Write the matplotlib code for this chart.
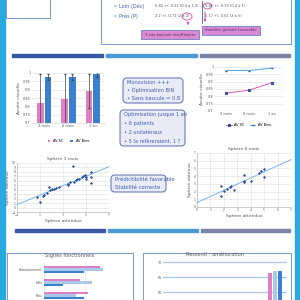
import numpy as np
import matplotlib.pyplot as plt
from matplotlib.patches import FancyBboxPatch, Rectangle, Ellipse

# donnees
periodes = ["3 mois", "6 mois", "1 an"]
av_sc = [0.822, 0.842, 0.893]
av_sc_err = [0.17, 0.15, 0.10]
av_bino = [0.976, 0.976, 0.992]
av_bino_err = [0.02, 0.02, 0.015]

sph3_att = [0.73, 1.01, 1.24, 1.39, 1.59, 1.79, 1.88, 2.02, 2.22, 2.4, 2.68, 3.46, 3.46, 3.6,
            3.83, 3.95, 4.12, 4.24, 4.41, 4.61, 4.76, 4.9, 4.99, 5.04, 5.47, 5.47, 5.47]
sph3_obt = [2.37, 1.25, 2.52, 2.74, 3.27, 4.61, 4.01, 4.24, 4.24, 4.39, 4.61, 5.36, 4.99, 5.74,
            9.25, 5.74, 6.11, 6.33, 6.49, 6.86, 7.01, 7.23, 6.86, 6.49, 7.98, 6.86, 5.51]
sph6_att = [1.75, 1.75, 2.0, 2.25, 2.45, 2.5, 2.75, 3.5, 3.5, 3.5, 4.0, 4.58, 4.75, 5.0, 5.0]
sph6_obt = [2.7, 1.4, 2.1, 2.36, 2.53, 2.7, 2.18, 4.15, 3.4, 3.2, 3.4, 4.37, 4.63, 4.9, 3.9]

signes = ["Eblouissement", "Halo", "Flou"]
signes_3m = [27.7, 17.8, 21.7]
signes_6m = [29.0, 23.7, 15.8]
signes_1a = [19.8, 9.4, 19.8]

ressenti_3m = [62.7]
ressenti_6m = [64.0]
ressenti_1a = [64.3]

rose = "#dd7fc2"
bleu = "#3b7fd0"
bleu_clair = "#a9c8ec"
cyan = "#29a9e1"
txt_bleu = "#3f5fae"

W, H = 300, 300
def rect(x0, y0, x1, y1):
    return [x0 / W, 1 - y1 / H, (x1 - x0) / W, (y1 - y0) / H]

fig = plt.figure(figsize=(3, 3), dpi=100)
plt.rcParams['font.family'] = ['DejaVu Sans']

# fond / decor en coordonnees pixels
bg = fig.add_axes([0, 0, 1, 1])
bg.set_xlim(0, W)
bg.set_ylim(H, 0)
bg.axis("off")
bg.add_patch(Rectangle((0, 0), 4.5, 300, color=cyan))
bg.add_patch(Rectangle((294.5, 0), 6, 300, color=cyan))

bg.add_patch(Rectangle((6, -5), 44, 23, fill=False, ec="#7a9ad0", lw=0.7))
bg.add_patch(Rectangle((101, -5), 190, 49, fill=False, ec="#7a9ad0", lw=0.7))

# texte du haut
for yy, lab, v1, v2 in [(6, "Loin (Déc)", "0.82 +/- 0.21 (0.3 à 1.2)", "0.86 +/- 0.19 (0.4 à 1)"),
                        (16, "Près (P)", "2.2 +/- 0.71 (2 à 4)", "2.17 +/- 0.61 (2 à 5)")]:
    bg.text(114, yy, "■", fontsize=2.2, color=bleu_clair, va="center")
    bg.text(119, yy, lab, fontsize=3.6, color=txt_bleu, va="center")
    bg.text(155, yy, v1, fontsize=2.6, color="#555555", va="center")
    bg.text(205, yy, v2, fontsize=2.6, color="#555555", va="center")
bg.plot([202, 202], [1, 23], color=txt_bleu, lw=0.6)
bg.add_patch(Ellipse((187, 16.5), 10, 7, fill=False, ec="#d060b8", lw=0.7))
bg.add_patch(Ellipse((207.5, 6), 8, 6, fill=False, ec="#d060b8", lw=0.7))
bg.annotate("", xy=(188, 28), xytext=(188, 20),
            arrowprops=dict(arrowstyle="-|>", color="#d060b8", lw=0.8, mutation_scale=3))
bg.annotate("", xy=(205, 25), xytext=(205, 9),
            arrowprops=dict(arrowstyle="-|>", color="#d060b8", lw=0.8, mutation_scale=3))
bg.add_patch(Rectangle((141, 30), 58, 9, fc="#d98ad2", ec="#6a80c8", lw=0.6))
bg.text(170, 34.5, "1 cas basculé insuffisante", fontsize=2.8, color="#5a2a6a", ha="center", va="center")
bg.add_patch(Rectangle((202, 26), 58, 9, fc="#d98ad2", ec="#6a80c8", lw=0.6))
bg.text(231, 30.5, "Stabilité globale favorable", fontsize=2.8, color="#5a2a6a", ha="center", va="center")

# barres separatrices
for yy, segs in [(55, [(12, 103), (106, 197), (200, 290)]),
                 (230, [(15, 105), (108, 198), (201, 290)])]:
    for (a, b), c in zip(segs, ["#3a58a8", "#4b9ad8", "#7984a6"]):
        bg.add_patch(Rectangle((a, yy - 1.5), b - a, 3, color=c))

# boites de texte
def boite(x0, y0, x1, y1, lignes, fs=3.6):
    bg.add_patch(FancyBboxPatch((x0, y0), x1 - x0, y1 - y0, boxstyle="round,pad=0,rounding_size=4",
                                fc="#e9ebf7", ec="#6d7fb8", lw=0.8))
    n = len(lignes)
    for i, l in enumerate(lignes):
        yy = y0 + (y1 - y0) * (i + 0.5) / n
        bg.text(x0 + 4, yy, l, fontsize=fs, color=txt_bleu, va="center")

boite(123, 78, 183, 103, ["Monovision +++", "• Optimisation BIN", "• Sans bascule = 0.8"])
boite(120, 110, 185, 146, ["Optimisation jusque 1 an", "• 6 patients", "• 2 unilatéraux",
                           "• 5 la refèreraient, 1 ?"])
boite(111, 175, 166, 192, ["Prédictibilité favorable", "Stabilité correcte"], fs=3.8)

# cadres du bas
bg.add_patch(Rectangle((7, 253), 126, 60, fill=False, ec="#7a9ad0", lw=0.7))
bg.add_patch(Rectangle((143, 253), 148, 60, fill=False, ec="#7a9ad0", lw=0.7))


def style_ax(ax, fs=2.5):
    ax.tick_params(labelsize=fs, length=0, pad=1, colors="#555555")
    for s in ax.spines.values():
        s.set_visible(False)


# histogramme acuite
ax1 = fig.add_axes(rect(32, 73, 105, 123))
x = np.arange(len(periodes))
ax1.bar(x - 0.16, av_sc, 0.28, color=rose, yerr=av_sc_err, error_kw=dict(lw=0.5, capsize=1, ecolor="#444444"),
        label="AV SC")
ax1.bar(x + 0.16, av_bino, 0.28, color=bleu, yerr=av_bino_err,
        error_kw=dict(lw=0.5, capsize=1, ecolor="#444444"), label="AV Bino")
ax1.set_ylim(0.7, 1.0)
ax1.set_yticks([0.7, 0.75, 0.8, 0.85, 0.9, 0.95, 1.0])
ax1.set_yticklabels(["0,7", "0,75", "0,8", "0,85", "0,9", "0,95", "1"])
ax1.set_xticks(x)
ax1.set_xticklabels(periodes)
ax1.set_xlim(-0.5, 2.5)
ax1.grid(axis="y", color="#dddddd", lw=0.4)
ax1.set_axisbelow(True)
style_ax(ax1)
ax1.spines["bottom"].set_visible(True)
ax1.spines["bottom"].set_color("#cccccc")
ax1.spines["bottom"].set_linewidth(0.4)
ax1.set_ylabel("Acuité visuelle", fontsize=3.2, color="#555555", labelpad=1)
ax1.legend(loc="upper center", bbox_to_anchor=(0.5, -0.26), ncol=2, fontsize=2.5, frameon=False,
           handlelength=0.8, handleheight=0.8, columnspacing=2)

# courbes acuite
ax2 = fig.add_axes(rect(215, 67, 283, 111))
ax2.plot(x, av_sc, color="#d55aa8", lw=0.7, marker="s", ms=1.3, mfc="#3550a0", mec="#3550a0", label="AV SC")
ax2.plot(x, av_bino, color="#56a2e0", lw=0.7, marker="_", ms=1.5, mec="#3550a0", label="AV Bino")
ax2.set_ylim(0.7, 1.0)
ax2.set_yticks([0.7, 0.75, 0.8, 0.85, 0.9, 0.95, 1.0])
ax2.set_yticklabels(["0,7", "0,75", "0,8", "0,85", "0,9", "0,95", "1"])
ax2.set_xticks(x)
ax2.set_xticklabels(periodes)
ax2.set_xlim(-0.5, 2.5)
ax2.grid(axis="y", color="#dddddd", lw=0.4)
style_ax(ax2)
ax2.set_ylabel("Acuité visuelle", fontsize=3.2, color="#555555", labelpad=1)
ax2.legend(loc="upper center", bbox_to_anchor=(0.5, -0.2), ncol=2, fontsize=2.5, frameon=False,
           handlelength=1.5, columnspacing=1.5)


def nuage(r, xs, ys, titre, xlim, ylim, xt, yt):
    ax = fig.add_axes(r)
    ax.scatter(xs, ys, s=2.5, marker="D", color="#2f55a8", lw=0, zorder=3)
    a, b = np.polyfit(xs, ys, 1)
    xx = np.array(xlim)
    ax.plot(xx, a * xx + b, color="#6aaae0", lw=0.6, zorder=2, clip_on=False)
    ax.set_xlim(*xlim)
    ax.set_ylim(*ylim)
    ax.set_xticks(xt)
    ax.set_yticks(yt)
    ax.grid(color="#dddddd", lw=0.4)
    style_ax(ax, 2.2)
    ax.spines["bottom"].set_visible(True)
    ax.spines["bottom"].set_color("#aaaaaa")
    ax.spines["bottom"].set_linewidth(0.4)
    ax.spines["left"].set_visible(True)
    ax.spines["left"].set_color("#aaaaaa")
    ax.spines["left"].set_linewidth(0.4)
    ax.set_title(titre, fontsize=3.2, color="#555555", pad=2)
    ax.set_xlabel("Sphère attendue", fontsize=3.2, color="#555555", labelpad=1)
    ax.set_ylabel("Sphère obtenue", fontsize=3.2, color="#555555", labelpad=1)
    return ax


nuage(rect(17, 163, 109, 212), sph3_att, sph3_obt, "Sphère 3 mois", (-1, 7), (-1, 10),
      [-1, 1, 3, 5, 7], list(range(-1, 11)))
nuage(rect(197, 153, 291, 207), sph6_att, sph6_obt, "Sphère 6 mois", (0, 7), (0, 7),
      list(range(0, 8)), list(range(0, 8)))

# signes fonctionnels
ax5 = fig.add_axes(rect(44, 262, 125, 300))
y = np.arange(len(signes))
ax5.barh(y - 0.19, signes_3m, 0.19, color=rose)
ax5.barh(y, signes_6m, 0.19, color=bleu_clair)
ax5.barh(y + 0.19, signes_1a, 0.19, color=bleu)
ax5.set_ylim(2.35, -0.58)
ax5.set_xlim(0, 40)
ax5.set_xticks([0, 20, 40])
ax5.set_xticklabels([])
ax5.set_yticks(y)
ax5.set_yticklabels(signes)
ax5.grid(axis="x", color="#dddddd", lw=0.4)
ax5.set_axisbelow(True)
style_ax(ax5, 2.3)
fig.text(70 / W, 1 - 255 / H, "Signes fonctionnels", fontsize=3.6, color="#555555", ha="center", va="center")

# ressenti
ax6 = fig.add_axes(rect(163, 258, 287, 300))
ax6.bar([-0.27], ressenti_3m, 0.24, color=rose)
ax6.bar([0], ressenti_6m, 0.24, color=bleu_clair)
ax6.bar([0.27], ressenti_1a, 0.24, color=bleu)
ax6.set_xlim(-5.96, 0.64)
ax6.set_ylim(44.7, 72.7)
ax6.set_yticks([50, 60, 70])
ax6.set_xticks([])
ax6.grid(axis="y", color="#a8c6ea", lw=0.9)
ax6.set_axisbelow(True)
style_ax(ax6, 2.3)
fig.text(215 / W, 1 - 255 / H, "Ressenti : amélioration", fontsize=3.6, color="#555555", ha="center", va="center")

fig.savefig("out.png", dpi=100)
